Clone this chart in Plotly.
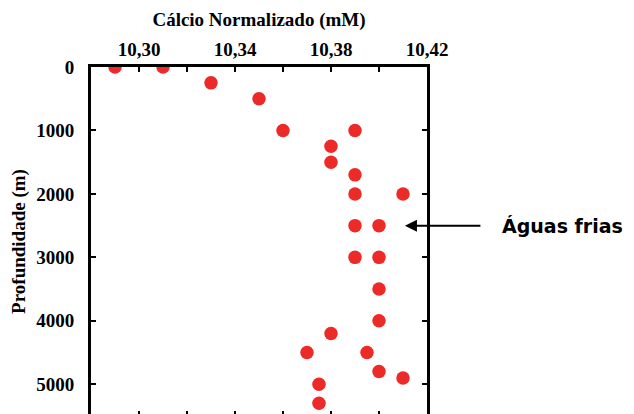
import plotly.graph_objects as go

# Data
calcio = [10.29, 10.31, 10.33, 10.35, 10.36, 10.39, 10.38, 10.38, 10.39, 10.39, 10.41,
          10.39, 10.40, 10.39, 10.40, 10.40, 10.40, 10.38, 10.37, 10.395, 10.40, 10.41,
          10.375, 10.375]
profundidade = [0, 0, 250, 500, 1000, 1000, 1250, 1500, 1700, 2000, 2000,
                2500, 2500, 3000, 3000, 3500, 4000, 4200, 4500, 4500, 4800, 4900,
                5000, 5300]

x_tickvals = [10.30, 10.32, 10.34, 10.36, 10.38, 10.40, 10.42]
x_ticktext = ["10,30", "", "10,34", "", "10,38", "", "10,42"]
y_tickvals = [0, 1000, 2000, 3000, 4000, 5000]
y_ticktext = ["0", "1000", "2000", "3000", "4000", "5000"]

x_range = [10.28, 10.42]
y_range = [5500, 0]

arrow_y = 2500
arrow_tip_x = 10.4108
label_text = "Águas frias"

serif = "Liberation Serif"

fig = go.Figure()
fig.add_trace(go.Scatter(
    x=calcio, y=profundidade, mode="markers",
    marker=dict(color="#EC2A27", size=13.5, line=dict(width=0)),
    showlegend=False, hoverinfo="skip",
))

fig.update_layout(
    width=626, height=414,
    margin=dict(l=83, r=207, t=59, b=6),
    paper_bgcolor="white", plot_bgcolor="white",
    font=dict(family=serif, color="black"),
    xaxis=dict(
        side="top", range=x_range, tickmode="array", automargin=False,
        tickvals=x_tickvals, ticktext=x_ticktext,
        ticks="inside", ticklen=5, tickwidth=2, tickcolor="black",
        showline=True, linewidth=3, linecolor="black", mirror=False,
        showgrid=False, zeroline=False,
        tickfont=dict(family=serif, size=19, color="black", weight="bold"),
        title=dict(text="<b>Cálcio Normalizado (mM)</b>", standoff=8,
                   font=dict(family=serif, size=19, color="black")),
    ),
    xaxis2=dict(
        overlaying="x", matches="x", side="bottom", anchor="y", automargin=False,
        range=x_range, tickmode="array", tickvals=x_tickvals,
        ticks="inside", ticklen=5, tickwidth=2, tickcolor="black",
        showticklabels=False, showline=False, showgrid=False, zeroline=False,
    ),
    yaxis=dict(
        range=y_range, tickmode="array", tickvals=y_tickvals, ticktext=y_ticktext,
        automargin=False,
        ticks="inside", ticklen=5, tickwidth=2, tickcolor="black",
        showline=True, linewidth=3, linecolor="black", mirror="ticks",
        showgrid=False, zeroline=False, ticklabelstandoff=10,
        tickfont=dict(family=serif, size=19, color="black", weight="bold"),
        title=dict(text="<b>Profundidade (m)</b>", standoff=12,
                   font=dict(family=serif, size=19, color="black")),
    ),
)

fig.add_trace(go.Scatter(x=[calcio[0]], y=[profundidade[0]], xaxis="x2", yaxis="y",
                         mode="markers", marker=dict(opacity=0), showlegend=False,
                         hoverinfo="skip"))

fig.add_annotation(
    x=arrow_tip_x, y=arrow_y, xref="x", yref="y",
    ax=77, ay=0, axref="pixel", ayref="pixel",
    text="", showarrow=True, arrowhead=2, arrowsize=1.2, arrowwidth=2,
    arrowcolor="black",
)
fig.add_annotation(
    x=1.218, y=arrow_y, xref="paper", yref="y",
    xanchor="left", yanchor="middle", showarrow=False,
    text="<b>" + label_text + "</b>",
    font=dict(family="DejaVu Sans", size=19, color="black"),
)

fig.write_html("out.html")
